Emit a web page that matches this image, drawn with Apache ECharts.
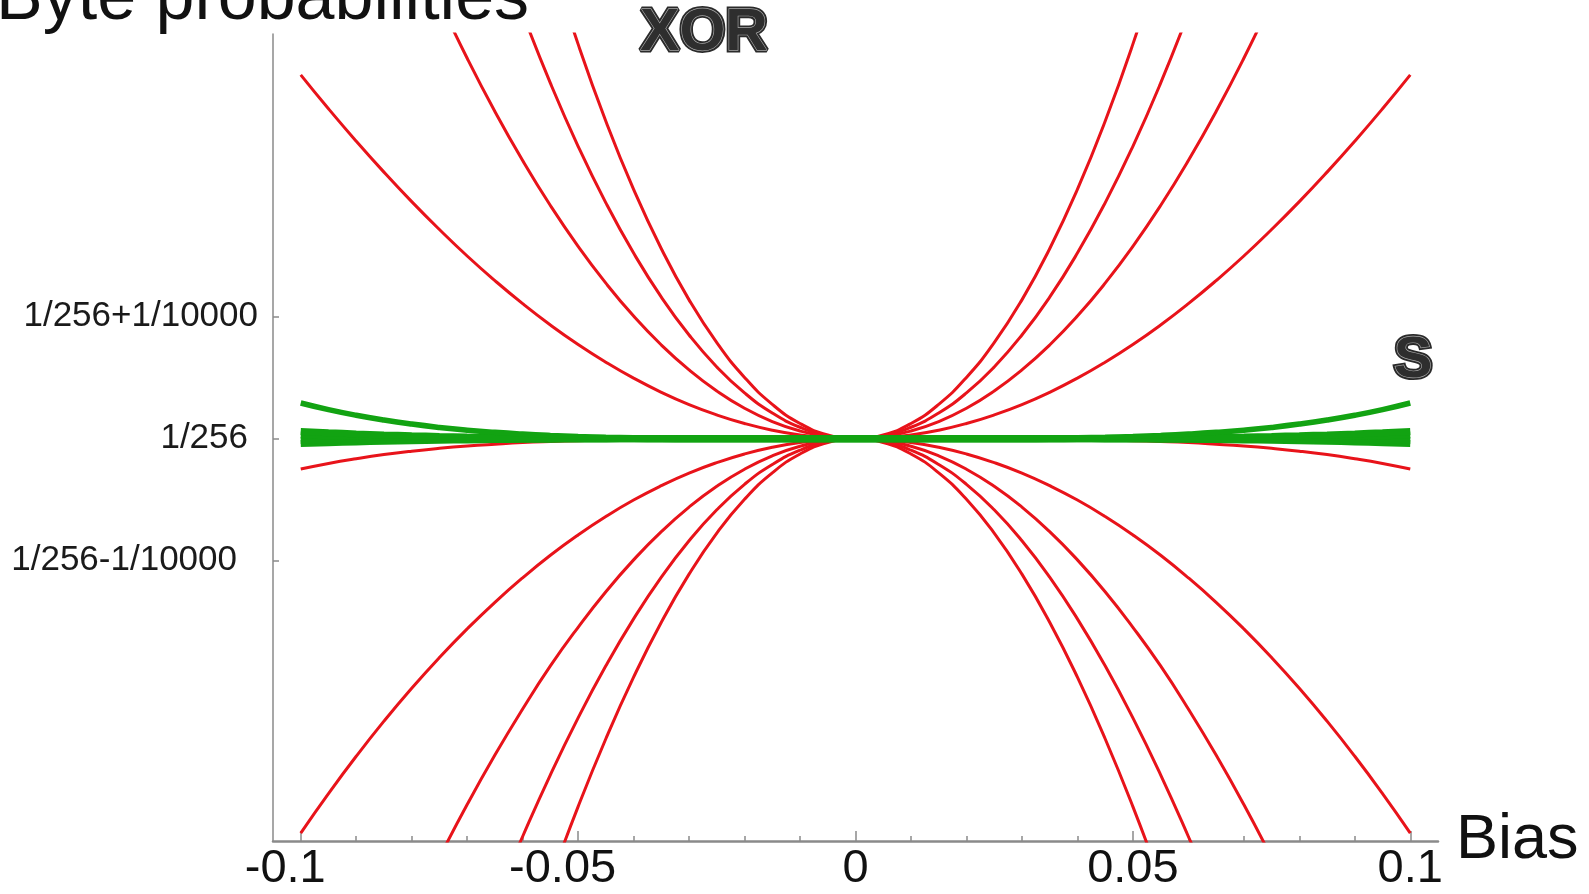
<!DOCTYPE html>
<html>
<head>
<meta charset="utf-8">
<script src="https://cdn.jsdelivr.net/npm/echarts@6/dist/echarts.min.js"></script>
<style>
  html, body { margin: 0; padding: 0; background: #fff; }
  #chart { width: 1589px; height: 894px; }
</style>
</head>
<body>
<div id="chart"></div>
<script>
// bias per bit
const bias = [-0.1, -0.095, -0.09, -0.085, -0.08, -0.075, -0.07, -0.065, -0.06, -0.055, -0.05,
  -0.045, -0.04, -0.035, -0.03, -0.025, -0.02, -0.015, -0.01, -0.005, 0,
  0.005, 0.01, 0.015, 0.02, 0.025, 0.03, 0.035, 0.04, 0.045, 0.05,
  0.055, 0.06, 0.065, 0.07, 0.075, 0.08, 0.085, 0.09, 0.095, 0.1];

// byte probability minus 1/256, in units of 1/10000
// XOR curves (red), one per number of set bits 0..8
const xor0 = [-10.883, -9.954, -9.048, -8.169, -7.319, -6.502, -5.721, -4.979, -4.280, -3.625, -3.018,
  -2.461, -1.956, -1.505, -1.111, -0.774, -0.497, -0.280, -0.125, -0.031, 0,
  -0.031, -0.125, -0.280, -0.497, -0.774, -1.111, -1.505, -1.956, -2.461, -3.018,
  -3.625, -4.280, -4.979, -5.721, -6.502, -7.319, -8.169, -9.048, -9.954, -10.883];
const xor1 = [-8.535, -7.774, -7.038, -6.330, -5.651, -5.003, -4.388, -3.794, -3.263, -2.757, -2.290,
  -1.863, -1.478, -1.135, -0.837, -0.583, -0.374, -0.211, -0.094, -0.023, 0,
  -0.023, -0.094, -0.211, -0.374, -0.583, -0.837, -1.135, -1.478, -1.863, -2.290,
  -2.757, -3.263, -3.794, -4.388, -5.003, -5.651, -6.330, -7.038, -7.774, -8.535];
const xor2 = [-5.991, -5.430, -4.894, -4.382, -3.895, -3.435, -3.001, -2.595, -2.217, -1.864, -1.547,
  -1.255, -0.994, -0.762, -0.561, -0.390, -0.250, -0.141, -0.062, -0.016, 0,
  -0.016, -0.062, -0.141, -0.250, -0.390, -0.561, -0.762, -0.994, -1.255, -1.547,
  -1.864, -2.217, -2.595, -3.001, -3.435, -3.895, -4.382, -4.894, -5.430, -5.991];
const xor3 = [-3.235, -2.911, -2.605, -2.317, -2.047, -1.795, -1.560, -1.342, -1.141, -0.956, -0.789,
  -0.638, -0.503, -0.385, -0.282, -0.196, -0.125, -0.070, -0.031, -0.008, 0,
  -0.008, -0.031, -0.070, -0.125, -0.196, -0.282, -0.385, -0.503, -0.638, -0.789,
  -0.956, -1.141, -1.342, -1.560, -1.795, -2.047, -2.317, -2.605, -2.911, -3.235];
const xor4 = [-0.249, -0.203, -0.164, -0.130, -0.102, -0.079, -0.060, -0.045, -0.032, -0.023, -0.016,
  -0.010, -0.006, -0.004, -0.002, -0.001, 0, 0, 0, 0, 0,
  0, 0, 0, 0, -0.001, -0.002, -0.004, -0.006, -0.010, -0.016,
  -0.023, -0.032, -0.045, -0.060, -0.079, -0.102, -0.130, -0.164, -0.203, -0.249];
const xor5 = [2.985, 2.707, 2.441, 2.187, 1.945, 1.716, 1.499, 1.297, 1.108, 0.933, 0.773,
  0.628, 0.497, 0.381, 0.280, 0.195, 0.125, 0.070, 0.031, 0.008, 0,
  0.008, 0.031, 0.070, 0.125, 0.195, 0.280, 0.381, 0.497, 0.628, 0.773,
  0.933, 1.108, 1.297, 1.499, 1.716, 1.945, 2.187, 2.441, 2.707, 2.985];
const xor6 = [6.489, 5.836, 5.221, 4.642, 4.100, 3.593, 3.121, 2.684, 2.282, 1.913, 1.578,
  1.276, 1.006, 0.769, 0.565, 0.392, 0.250, 0.141, 0.063, 0.016, 0,
  0.016, 0.063, 0.141, 0.250, 0.392, 0.565, 0.769, 1.006, 1.276, 1.578,
  1.913, 2.282, 2.684, 3.121, 3.593, 4.100, 4.642, 5.221, 5.836, 6.489];
const xor7 = [10.285, 9.199, 8.186, 7.243, 6.368, 5.557, 4.808, 4.120, 3.490, 2.917, 2.399,
  1.935, 1.523, 1.161, 0.851, 0.589, 0.376, 0.211, 0.094, 0.023, 0,
  0.023, 0.094, 0.211, 0.376, 0.589, 0.851, 1.161, 1.523, 1.935, 2.399,
  2.917, 3.490, 4.120, 4.808, 5.557, 6.368, 7.243, 8.186, 9.199, 10.285];
const xor8 = [14.397, 12.814, 11.351, 10.000, 8.755, 7.611, 6.562, 5.604, 4.734, 3.945, 3.237,
  2.604, 2.045, 1.558, 1.139, 0.788, 0.503, 0.282, 0.125, 0.031, 0,
  0.031, 0.125, 0.282, 0.503, 0.788, 1.139, 1.558, 2.045, 2.604, 3.237,
  3.945, 4.734, 5.604, 6.562, 7.611, 8.755, 10.000, 11.351, 12.814, 14.397];

// S curves (green)
const sTop = [0.293, 0.2386, 0.1922, 0.1529, 0.12, 0.0927, 0.0703, 0.0523, 0.038, 0.0268, 0.0183,
  0.012, 0.0075, 0.0044, 0.0024, 0.0011, 0.0005, 0.0001, 0, 0, 0,
  0, 0, 0.0001, 0.0005, 0.0011, 0.0024, 0.0044, 0.0075, 0.012, 0.0183,
  0.0268, 0.038, 0.0523, 0.0703, 0.0927, 0.12, 0.1529, 0.1922, 0.2386, 0.293];
const sB1 = [0.06, 0.0489, 0.0394, 0.0313, 0.0246, 0.019, 0.0144, 0.0107, 0.0078, 0.0055, 0.0038,
  0.0025, 0.0015, 0.0009, 0.0005, 0.0002, 0.0001, 0, 0, 0, 0,
  0, 0, 0, 0.0001, 0.0002, 0.0005, 0.0009, 0.0015, 0.0025, 0.0038,
  0.0055, 0.0078, 0.0107, 0.0144, 0.019, 0.0246, 0.0313, 0.0394, 0.0489, 0.06];
const sB2 = [0.03, 0.0244, 0.0197, 0.0157, 0.0123, 0.0095, 0.0072, 0.0054, 0.0039, 0.0027, 0.0019,
  0.0012, 0.0008, 0.0005, 0.0002, 0.0001, 0, 0, 0, 0, 0,
  0, 0, 0, 0, 0.0001, 0.0002, 0.0005, 0.0008, 0.0012, 0.0019,
  0.0027, 0.0039, 0.0054, 0.0072, 0.0095, 0.0123, 0.0157, 0.0197, 0.0244, 0.03];
const sB3 = [-0.015, -0.0122, -0.0098, -0.0078, -0.0061, -0.0047, -0.0036, -0.0027, -0.0019, -0.0014, -0.0009,
  -0.0006, -0.0004, -0.0002, -0.0001, -0.0001, 0, 0, 0, 0, 0,
  0, 0, 0, 0, -0.0001, -0.0001, -0.0002, -0.0004, -0.0006, -0.0009,
  -0.0014, -0.0019, -0.0027, -0.0036, -0.0047, -0.0061, -0.0078, -0.0098, -0.0122, -0.015];
const sB4 = [-0.04, -0.0326, -0.0262, -0.0209, -0.0164, -0.0127, -0.0096, -0.0071, -0.0052, -0.0037, -0.0025,
  -0.0016, -0.001, -0.0006, -0.0003, -0.0002, -0.0001, 0, 0, 0, 0,
  0, 0, 0, -0.0001, -0.0002, -0.0003, -0.0006, -0.001, -0.0016, -0.0025,
  -0.0037, -0.0052, -0.0071, -0.0096, -0.0127, -0.0164, -0.0209, -0.0262, -0.0326, -0.04];

// axis ticks / labels
const xMinorTicks = [-0.1, -0.09, -0.08, -0.07, -0.06, -0.05, -0.04, -0.03, -0.02, -0.01, 0,
  0.01, 0.02, 0.03, 0.04, 0.05, 0.06, 0.07, 0.08, 0.09, 0.1];
const xMajorTicks = [-0.1, -0.05, 0, 0.05, 0.1];
const xTickLabels = ["-0.1", "-0.05", "0", "0.05", "0.1"];
const yTicks = [-1, 0, 1];
const yTickLabels = ["1/256-1/10000", "1/256", "1/256+1/10000"];

const RED = "#e8131a";
const GREEN = "#12a312";
const AXIS = "#8a8a8a";
const FONT = "'Liberation Sans', Arial, sans-serif";

const chart = echarts.init(document.getElementById("chart"));

function idxOf(list, v) {
  return list.findIndex((t) => Math.abs(t - v) < 1e-9);
}

function curve(vals, color, width) {
  return {
    type: "line",
    data: bias.map((b, i) => [b, vals[i]]),
    showSymbol: false,
    smooth: true,
    silent: true,
    clip: true,
    lineStyle: { color: color, width: width },
  };
}

// outlined label, dark rim + light inner edge
function emboss(text, x, y, size) {
  const font = "bold " + size + "px " + FONT;
  return [
    { type: "text", x: x, y: y, z: 100,
      style: { text: text, font: font, fill: "#2a2a2a", stroke: "#2a2a2a", lineWidth: 5,
        align: "center", verticalAlign: "middle" } },
    { type: "text", x: x, y: y, z: 101,
      style: { text: text, font: font, fill: "#2e2e2e", stroke: "#a8a8a8", lineWidth: 1.3,
        align: "center", verticalAlign: "middle" } },
  ];
}

const xorSeries = [xor0, xor1, xor2, xor3, xor4, xor5, xor6, xor7, xor8].map((d) => curve(d, RED, 3));
const sSeries = [sB4, sB3, sB2, sB1].map((d) => curve(d, GREEN, 7)).concat([curve(sTop, GREEN, 5.5)]);

chart.setOption({
  animation: false,
  backgroundColor: "#fff",
  grid: { left: 273, right: 151, top: 34, bottom: 53 },
  xAxis: [
    {
      type: "value",
      min: -0.105,
      max: 0.105,
      position: "bottom",
      name: "Bias",
      nameLocation: "end",
      nameGap: 18,
      nameTextStyle: { fontFamily: FONT, fontSize: 63, color: "#111" },
      axisLine: { onZero: false, lineStyle: { color: AXIS, width: 2.5 } },
      axisTick: { inside: true, length: 5, customValues: xMinorTicks, lineStyle: { color: AXIS, width: 1.5 } },
      axisLabel: {
        customValues: xMajorTicks,
        margin: 5,
        formatter: (v) => {
          const s = xTickLabels[idxOf(xMajorTicks, v)];
          return v < 0 ? "{n|" + s + "}" : "{p|" + s + "}";
        },
        rich: {
          n: { fontFamily: FONT, fontSize: 47, color: "#111", padding: [0, 31, 0, 0] },
          p: { fontFamily: FONT, fontSize: 47, color: "#111" },
        },
      },
      splitLine: { show: false },
    },
    {
      // longer ticks at the labelled values
      type: "value",
      min: -0.105,
      max: 0.105,
      position: "bottom",
      axisLine: { show: false, onZero: false },
      axisTick: { inside: true, length: 10, customValues: xMajorTicks, lineStyle: { color: AXIS, width: 1.5 } },
      axisLabel: { show: false },
      splitLine: { show: false },
    },
  ],
  yAxis: {
    type: "value",
    min: -3.3,
    max: 3.32,
    axisLine: { show: true, onZero: false, lineStyle: { color: AXIS, width: 1.5 } },
    axisTick: { show: true, inside: true, length: 6, customValues: yTicks, lineStyle: { color: AXIS, width: 1.5 } },
    axisLabel: {
      customValues: yTicks,
      margin: 15,
      formatter: (v) => {
        const i = idxOf(yTicks, v);
        return "{l" + i + "|" + yTickLabels[i] + "}";
      },
      rich: {
        l0: { fontFamily: FONT, fontSize: 35, color: "#1a1a1a", padding: [0, 21, 0, 0] },
        l1: { fontFamily: FONT, fontSize: 35, color: "#1a1a1a", padding: [0, 10, 0, 0] },
        l2: { fontFamily: FONT, fontSize: 35, color: "#1a1a1a" },
      },
    },
    splitLine: { show: false },
  },
  graphic: [
    { type: "text", x: -4, y: 0, z: 100,
      style: { text: "Byte probabilities", font: "70px " + FONT, fill: "#111", align: "left", verticalAlign: "middle" } },
  ].concat(emboss("XOR", 704, 34, 59), emboss("S", 1413, 361, 58)),
  series: xorSeries.concat(sSeries),
});
</script>
</body>
</html>
